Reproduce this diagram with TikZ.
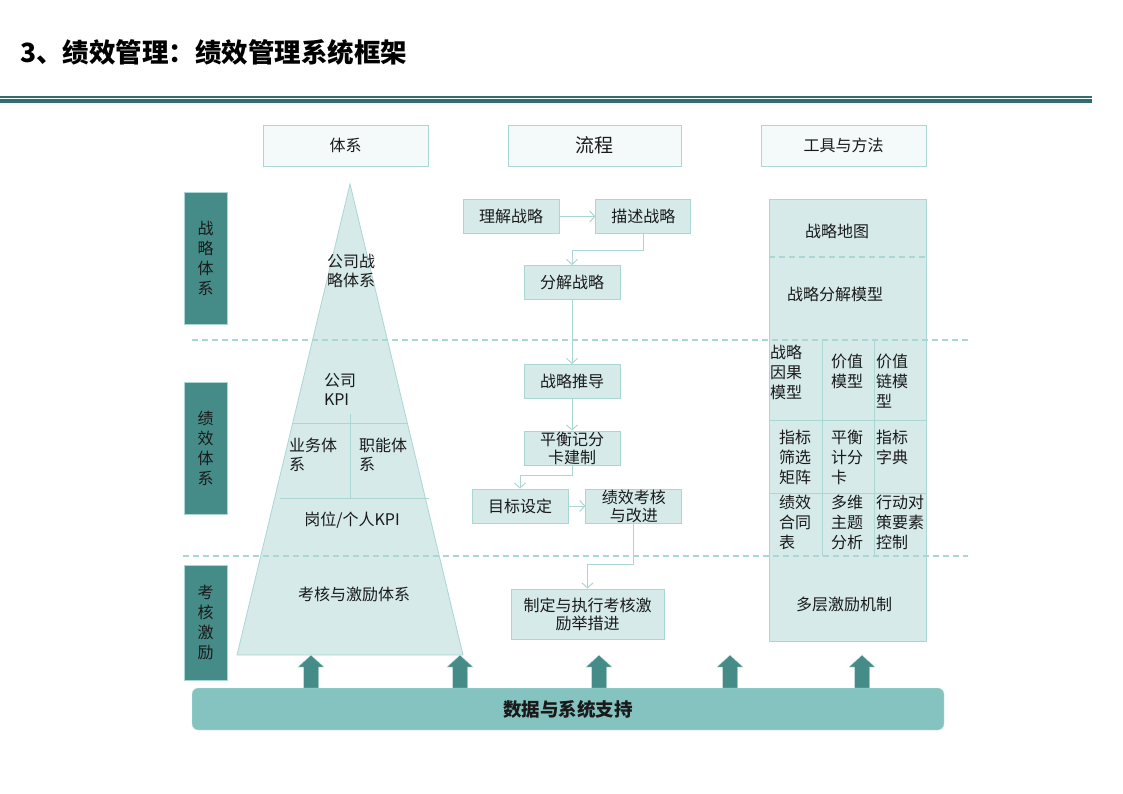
\documentclass[tikz,border=0pt]{standalone}
\usepackage{fontspec}
\setmainfont{Noto Sans CJK SC}
\usepackage{tikz}
\usetikzlibrary{arrows.meta, positioning}
\definecolor{tealdark}{HTML}{336E6E}
\definecolor{labelteal}{HTML}{458B87}
\definecolor{paleteal}{HTML}{D5EAE9}
\definecolor{edgeteal}{HTML}{AAD6D4}
\definecolor{headfill}{HTML}{F4F9F9}
\definecolor{barteal}{HTML}{85C3C1}
\definecolor{ink}{HTML}{1A1A1A}

\tikzset{
  procbox/.style={draw=edgeteal, fill=paleteal, line width=0.8pt, text=ink,
    font=\fontsize{16}{18}\selectfont, align=center, inner sep=0pt,
    minimum width=96pt, minimum height=34pt},
  headbox/.style={procbox, fill=headfill, minimum width=165pt, minimum height=41pt},
  sidebox/.style={draw=edgeteal, fill=labelteal, text=ink, line width=0.8pt,
    font=\fontsize{16}{20}\selectfont, align=center,
    minimum width=43pt, minimum height=132pt},
  flow/.style={draw=edgeteal, line width=1pt, -{Straight Barb[length=5pt,width=11pt]}},
  divider/.style={draw=edgeteal, line width=1.5pt, dash pattern=on 6pt off 4pt},
  cell/.style={anchor=north west, align=left, inner sep=0pt, text=ink,
    font=\fontsize{16}{20}\selectfont},
  tritext/.style={text=ink, font=\fontsize{16}{19}\selectfont, align=center, inner sep=0pt}
}

\begin{document}
\begin{tikzpicture}[x=1pt, y=-1pt]
	\useasboundingbox (0,0) rectangle (1123,794);

	% title and rule
	\node[anchor=west, inner sep=0pt, font=\fontsize{26.5}{30}\selectfont\bfseries] (title) at (20,52) {3、绩效管理：绩效管理系统框架};
	\draw[tealdark, line width=1.2pt] (0,97) -- (1092,97);
	\draw[tealdark, line width=3.4pt] (0,101) -- (1092,101);

	% column heads
	\node[headbox] (tixi) at (345.5,145.5) {体系};
	\node[headbox, minimum width=173pt, font=\fontsize{19}{22}\selectfont] (liucheng) at (594.5,145.5) {流程};
	\node[headbox] (gongju) at (843.5,145.5) {工具与方法};

	% side labels
	\node[sidebox] (zhanlue) at (205.5,258) {战\\略\\体\\系};
	\node[sidebox] (jixiaotx) at (205.5,448) {绩\\效\\体\\系};
	\node[sidebox, minimum height=115pt] (kaohe) at (205.5,622.5) {考\\核\\激\\励};

	% pyramid
	\draw[draw=edgeteal, fill=paleteal, line width=0.8pt] (350,184) -- (463,655) -- (237,655) -- cycle;
	\draw[edgeteal, line width=0.8pt] (293,423) -- (407,423) (350,414) -- (350,498) (280,498) -- (429,498);
	\node[tritext] (gongsizl) at (351,271) {公司战\\略体系};
	\node[tritext, align=left] (gongsikpi) at (340,389) {公司\\KPI};
	\node[tritext, align=left, anchor=west] (yewu) at (289,455) {业务体\\系};
	\node[tritext, align=left, anchor=west] (zhineng) at (359,455) {职能体\\系};
	\node[tritext] (gangwei) at (352,520) {岗位/个人KPI};
	\node[tritext] (kaohetx) at (354,594) {考核与激励体系};

	% process
	\node[procbox] (lijie) at (511,216.5) {理解战略};
	\node[procbox, right=36pt of lijie, minimum width=95pt] (miaoshu) {描述战略};
	\node[procbox] (fenjie) at (572,282.5) {分解战略};
	\node[procbox] (tuidao) at (572,381.5) {战略推导};
	\node[procbox] (pingheng) at (572,448) {平衡记分\\卡建制};
	\node[procbox] (mubiao) at (520,506) {目标设定};
	\node[procbox, right=17pt of mubiao] (jixiao) {绩效考核\\与改进};
	\node[procbox, minimum width=153pt, minimum height=50pt] (zhiding) at (587.5,614) {制定与执行考核激\\励举措进};

	\draw[flow] (lijie) -- (miaoshu);
	\draw[flow] (miaoshu.south) -- ++(0,17) -| (fenjie.north);
	\draw[flow] (fenjie) -- (tuidao);
	\draw[flow] (tuidao) -- (pingheng);
	\draw[flow] (pingheng.south) -- ++(0,10) -| (mubiao.north);
	\draw[flow] (mubiao) -- (jixiao);
	\draw[flow] (jixiao.south) -- ++(0,41) -| (zhiding.north);

	% tools column
	\node[draw=edgeteal, fill=paleteal, line width=0.8pt, minimum width=157pt, minimum height=442pt] (tools) at (847.5,420) {};
	\draw[divider] (769,257) -- (926,257);
	\draw[edgeteal, line width=0.8pt] (769,420) -- (926,420) (769,493) -- (926,493)
		(822,340) -- (822,556) (874,340) -- (874,556);
	\node[tritext] (ditu) at (837,231) {战略地图};
	\node[tritext] (fenjiemx) at (835,294) {战略分解模型};
	\node[tritext] (jili) at (844,604) {多层激励机制};
	\node[cell] (yinguo) at (770,345) {战略\\因果\\模型};
	\node[cell] (jiazhi) at (831,354) {价值\\模型};
	\node[cell] (jiazhilian) at (876,354) {价值\\链模\\型};
	\node[cell] (shaixuan) at (779,430) {指标\\筛选\\矩阵};
	\node[cell] (jifenka) at (831,430) {平衡\\计分\\卡};
	\node[cell] (zidian) at (876,430) {指标\\字典};
	\node[cell] (hetong) at (779,495) {绩效\\合同\\表};
	\node[cell] (zhuti) at (831,495) {多维\\主题\\分析};
	\node[cell] (xingdong) at (876,495) {行动对\\策要素\\控制};

	% level dividers
	\draw[divider] (192,340) -- (968,340);
	\draw[divider] (183,556) -- (968,556);

	% support bar
	\foreach \x in {311,460,599,730,862}
		\draw[draw=edgeteal!60, fill=labelteal] (\x-7.5,689) -- (\x-7.5,667) -- (\x-13,667) -- (\x,655)
			-- (\x+13,667) -- (\x+7.5,667) -- (\x+7.5,689) -- cycle;
	\node[draw=edgeteal!60, fill=barteal, rounded corners=6pt, minimum width=752pt, minimum height=42pt,
		font=\fontsize{18.5}{22}\selectfont\bfseries, text=ink] (support) at (568,709) {数据与系统支持};
\end{tikzpicture}
\end{document}
